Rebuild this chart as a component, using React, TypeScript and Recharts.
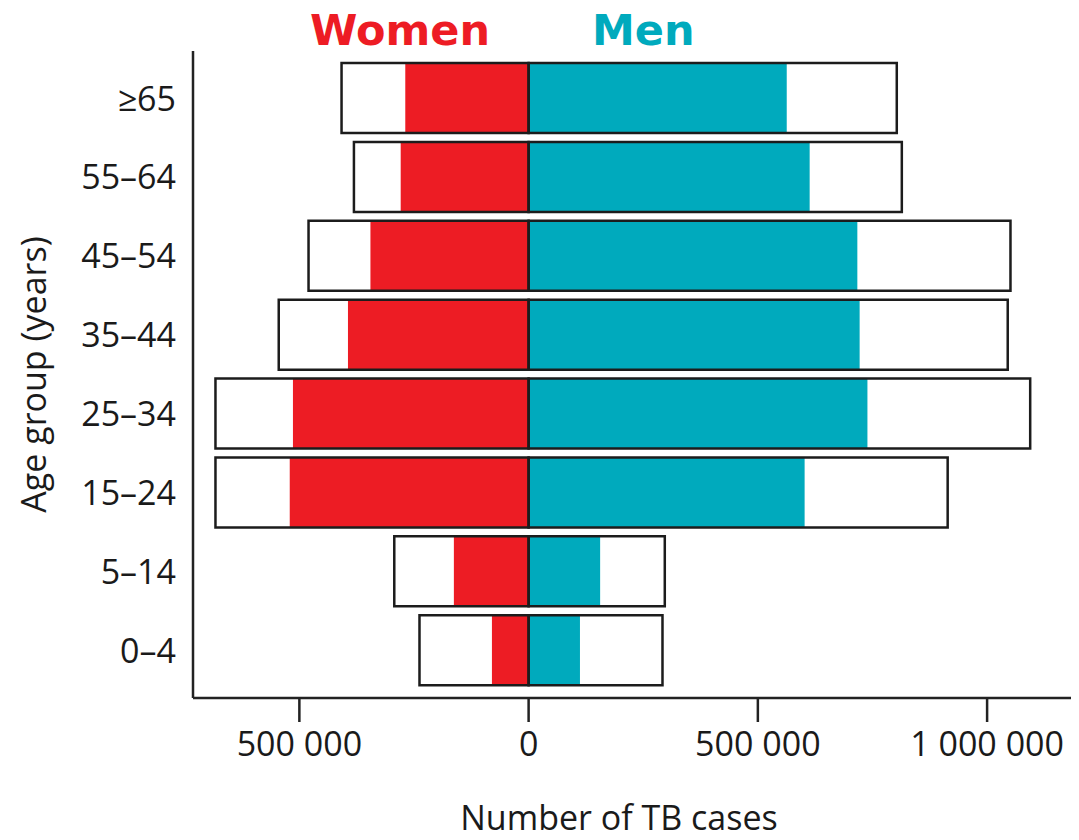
import React from 'react';
import { BarChart, Bar, XAxis, YAxis, Label } from 'recharts';

const ageGroups = ['≥65', '55–64', '45–54', '35–44', '25–34', '15–24', '5–14', '0–4'];
const womenNotified = [269000, 279000, 345000, 394000, 514000, 521000, 163000, 80000];
const menNotified = [563000, 613000, 717000, 722000, 739000, 602000, 156000, 112000];
const womenEstimated = [408000, 381000, 480000, 545000, 683000, 683000, 293000, 238000];
const menEstimated = [803000, 814000, 1051000, 1045000, 1094000, 914000, 297000, 292000];
const xTicks = [-500000, 0, 500000, 1000000];

const RED = '#ED1C24';
const TEAL = '#00AABD';
const INK = '#1a1a1a';
const FONT = '"Open Sans", sans-serif';

const rows = ageGroups.map((age, i) => ({
  age,
  womenN: -womenNotified[i],
  menN: menNotified[i],
  womenE: -womenEstimated[i],
  menE: menEstimated[i],
}));

const fmt = (v: number) => String(Math.abs(v)).replace(/\B(?=(\d{3})+(?!\d))/g, ' ');

const App: React.FC = () => {
  return (
    <div style={{ position: 'absolute', left: 0, top: 0, width: 1079, height: 840, background: '#fff' }}>
      <div
        style={{
          position: 'absolute', left: 310, top: 4, fontFamily: '"DejaVu Sans", sans-serif',
          fontWeight: 'bold', fontSize: 43, color: RED, lineHeight: '52px',
        }}
      >
        Women
      </div>
      <div
        style={{
          position: 'absolute', left: 592, top: 4, fontFamily: '"DejaVu Sans", sans-serif',
          fontWeight: 'bold', fontSize: 43, color: TEAL, lineHeight: '52px',
        }}
      >
        Men
      </div>
      <BarChart
        width={1079}
        height={840}
        data={rows}
        layout="vertical"
        stackOffset="sign"
        margin={{ top: 51, right: 8, left: 0, bottom: 0 }}
      >
        <XAxis
          type="number"
          domain={[-732000, 1183000]}
          allowDataOverflow
          ticks={xTicks}
          tickFormatter={fmt}
          height={142}
          tickSize={24}
          tickMargin={10}
          stroke="#222"
          strokeWidth={2.5}
          tick={{ fill: INK, fontSize: 34, fontFamily: FONT }}
        >
          <Label
            value="Number of TB cases"
            position="insideBottom"
            offset={10}
            dx={-13}
            style={{ fill: INK, fontSize: 34, fontFamily: FONT }}
          />
        </XAxis>
        <YAxis
          yAxisId="a"
          type="category"
          dataKey="age"
          width={193}
          padding={{ top: 8, bottom: 8 }}
          tickLine={false}
          tickSize={0}
          tickMargin={17}
          stroke="#222"
          strokeWidth={2.5}
          tick={{ fill: INK, fontSize: 34, fontFamily: FONT }}
        >
          <Label
            value="Age group (years)"
            angle={-90}
            position="insideLeft"
            offset={34}
            style={{ fill: INK, fontSize: 34, fontFamily: FONT, textAnchor: 'middle' }}
          />
        </YAxis>
        <YAxis yAxisId="b" type="category" dataKey="age" hide padding={{ top: 8, bottom: 8 }} />
        <Bar yAxisId="a" dataKey="womenN" stackId="n" fill={RED} barSize={70} isAnimationActive={false} />
        <Bar yAxisId="a" dataKey="menN" stackId="n" fill={TEAL} barSize={70} isAnimationActive={false} />
        <Bar yAxisId="b" dataKey="womenE" stackId="e" fill="none" stroke="#1c1c1c" strokeWidth={2.5} barSize={70} isAnimationActive={false} />
        <Bar yAxisId="b" dataKey="menE" stackId="e" fill="none" stroke="#1c1c1c" strokeWidth={2.5} barSize={70} isAnimationActive={false} />
      </BarChart>
    </div>
  );
};

export default App;
